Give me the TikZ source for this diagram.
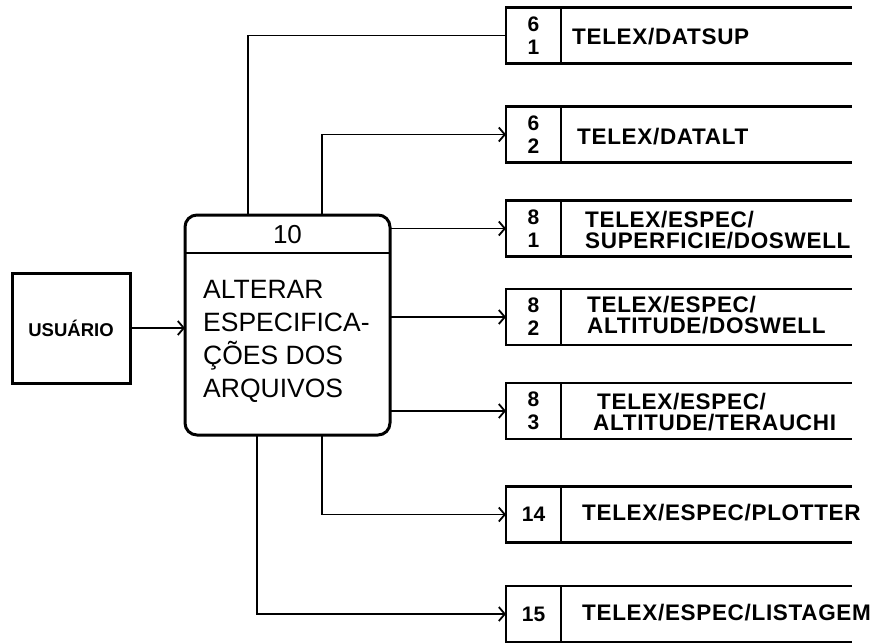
\documentclass[tikz,border=0pt]{standalone}
\usepackage{fontspec}
\setmainfont{Liberation Sans}
\newfontfamily\storefont[LetterSpace=3]{Liberation Sans}
\usetikzlibrary{arrows.meta,calc}
\begin{document}
\begin{tikzpicture}[x=1pt,y=-1pt,
  conn/.style={line width=1.8pt},
  arr/.style={conn,-{Straight Barb[length=6pt,width=14pt,line width=1.8pt]}},
  numbox/.style={draw,line width=2.6pt,minimum width=55pt,minimum height=56pt,inner sep=0pt,outer sep=0pt,align=center,font=\bfseries\fontsize{21}{23}\selectfont},
  storetext/.style={anchor=west,align=left,inner sep=0pt,font=\storefont\bfseries\fontsize{22.5}{21}\selectfont},
  storeline/.style={line width=2.6pt}]
\useasboundingbox (0,0) rectangle (883,643);

% external entity
\node[draw,line width=3pt,minimum width=118pt,minimum height=110pt,outer sep=0pt,
      font=\bfseries\fontsize{18.5}{18}\selectfont] (usr) at (71,328) {USUÁRIO};

% process
\node[draw,rounded corners=12pt,line width=3pt,minimum width=205pt,minimum height=220pt,outer sep=0pt] (proc) at (287.5,325) {};
\draw[line width=2.6pt] ($(proc.north west)+(0,38)$) -- ($(proc.north east)+(0,38)$);
\node[font=\fontsize{26}{26}\selectfont] (pnum) at (287.5,235) {10};
\node[anchor=west,align=left,inner sep=0pt,font=\fontsize{26.5}{33}\selectfont] (ptext) at (203,341)
  {ALTERAR\\ESPECIFICA-\\ÇÕES DOS\\ARQUIVOS};

% data stores
\node[numbox] (s1) at (533.5,35.5) {6\\1};
\node[numbox] (s2) at (533.5,134.5) {6\\2};
\node[numbox] (s3) at (533.5,228.5) {8\\1};
\node[numbox] (s4) at (533.5,317) {8\\2};
\node[numbox] (s5) at (533.5,411) {8\\3};
\node[numbox] (s6) at (533.5,514.5) {14};
\node[numbox] (s7) at (533.5,614) {15};
\foreach \s in {s1,s2,s3,s4,s5,s6,s7}{
  \draw[storeline] (\s.north west) -- ++(346,0);
  \draw[storeline] (\s.south west) -- ++(346,0);
}
\node[storetext] (t1) at (572,37) {TELEX/DATSUP};
\node[storetext] (t2) at (577,137) {TELEX/DATALT};
\node[storetext] (t3) at (585,230) {TELEX/ESPEC/\\SUPERFICIE/DOSWELL};
\node[storetext] (t4) at (587,315) {TELEX/ESPEC/\\ALTITUDE/DOSWELL};
\node[storetext] (t5) at (593,412) {\hspace*{4pt}TELEX/ESPEC/\\ALTITUDE/TERAUCHI};
\node[storetext] (t6) at (582,513) {TELEX/ESPEC/PLOTTER};
\node[storetext] (t7) at (582,613) {TELEX/ESPEC/LISTAGEM};

% connectors
\draw[arr] (usr.east) -- (usr.east -| proc.west);
\draw[conn] ($(proc.north west)+(63,0)$) |- (s1.west);
\draw[arr] ($(proc.north west)+(137,0)$) |- (s2.west);
\draw[arr] (proc.east |- s3.west) -- (s3.west);
\draw[arr] (proc.east |- s4.west) -- (s4.west);
\draw[arr] (proc.east |- s5.west) -- (s5.west);
\draw[arr] ($(proc.south west)+(137,0)$) |- (s6.west);
\draw[arr] ($(proc.south west)+(72,0)$) |- (s7.west);
\end{tikzpicture}
\end{document}
